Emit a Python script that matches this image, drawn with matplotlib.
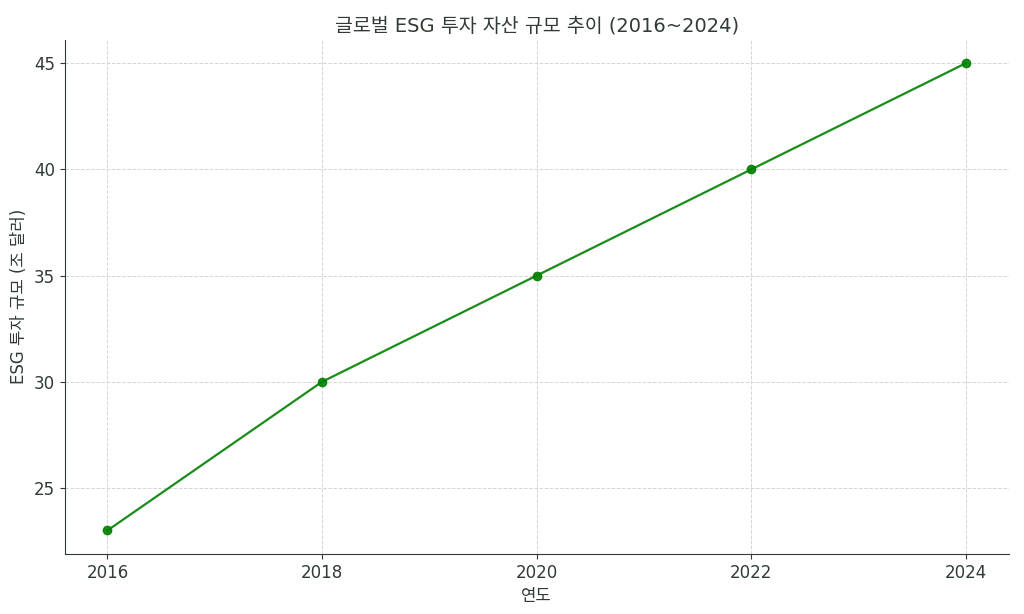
import matplotlib.pyplot as plt

plt.rcParams['font.family'] = ['DejaVu Sans', 'Noto Sans CJK KR']

years = [2016, 2018, 2020, 2022, 2024]
assets = [23, 30, 35, 40, 45]

txt = "#2f3b33"

fig, ax = plt.subplots(figsize=(10.24, 6.14), dpi=100)
ax.plot(years, assets, marker="o", color="green", linewidth=1.6, markersize=6, alpha=0.9)
ax.set_title("글로벌 ESG 투자 자산 규모 추이 (2016~2024)", fontsize=14, color=txt)
ax.set_xlabel("연도", fontsize=12, color=txt)
ax.set_ylabel("ESG 투자 규모 (조 달러)", fontsize=12, color=txt)
ax.set_xticks(years)
ax.tick_params(labelsize=12, colors=txt)
ax.grid(True, linestyle="--", color="#d5d5d5", linewidth=0.7)
ax.spines["top"].set_visible(False)
ax.spines["right"].set_visible(False)
for s in ("left", "bottom"):
    ax.spines[s].set_color(txt)

fig.subplots_adjust(left=0.063, right=0.985, top=0.935, bottom=0.098)
fig.savefig("out.png", dpi=100)
